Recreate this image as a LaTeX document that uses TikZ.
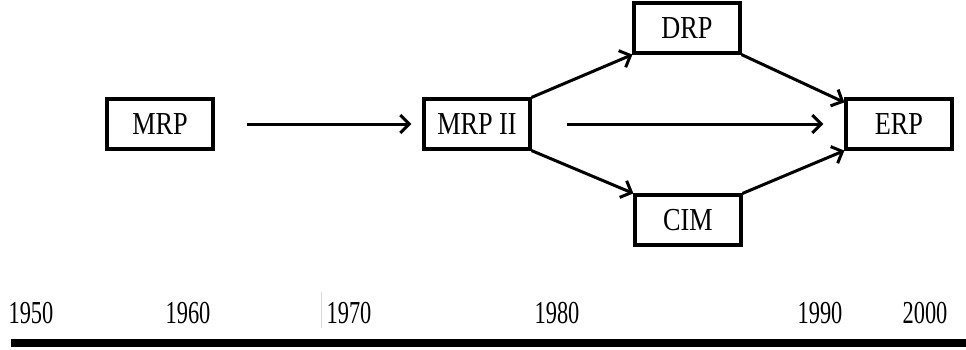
\documentclass[tikz,border=0pt]{standalone}
\usepackage{fontspec}
\setmainfont{Liberation Serif}[FakeStretch=0.82]
\newfontfamily\yearfont{Liberation Serif}[FakeStretch=0.7]
\usepackage{tikz}
\usetikzlibrary{arrows.meta, positioning}

\begin{document}
\begin{tikzpicture}[x=0.5pt,y=-0.5pt,on grid,
        box/.style={draw, line width=1.6pt, minimum width=53pt, minimum height=25pt,
            inner sep=0pt, font=\fontsize{16}{19}\selectfont},
        year/.style={font=\yearfont\fontsize{16}{19}\selectfont},
        >={Straight Barb[length=4.5pt,width=9pt]}]
        \useasboundingbox (0,0) rectangle (966,349);

        \node[box]   (mrp)  at (160,124)                          {MRP};
        \node[box]   (mrp2) [right=158.5pt of mrp]                {MRP II};
        \node[box]   (drp)  [above right=48pt and 105pt of mrp2]  {DRP};
        \node[box]   (cim)  [below right=48pt and 105.5pt of mrp2] {CIM};
        \node[box]   (erp)  [right=211pt of mrp2]                 {ERP};

        \path[->, line width=1.5pt]
        (mrp) edge [shorten <=16pt, shorten >=5.5pt] (mrp2)
        (mrp2) edge [shorten <=17.5pt, shorten >=10.5pt] (erp)

        (mrp2.north east) edge (drp.south west)
        (mrp2.south east) edge (cim.north west)

        (drp.south east) edge ([yshift=-2.5pt]erp.north west)
        (cim.north east) edge (erp.south west)
        ;

        % time axis
        \node[year]  (y1950) at (31,313)  {1950};
        \node[year]  (y1960) at (188,313) {1960};
        \node[year]  (y1970) at (349,313) {1970};
        \node[year]  (y1980) at (557,313) {1980};
        \node[year]  (y1990) at (820,313) {1990};
        \node[year]  (y2000) at (925,313) {2000};
        \draw[black!15, line width=0.5pt] (321,292) -- (321,328);

        \coordinate (tl0) at (11,343);
        \coordinate (tl1) at (966,343);
        \draw[line width=4pt] (tl0) -- (tl1);
    \end{tikzpicture}
\end{document}
